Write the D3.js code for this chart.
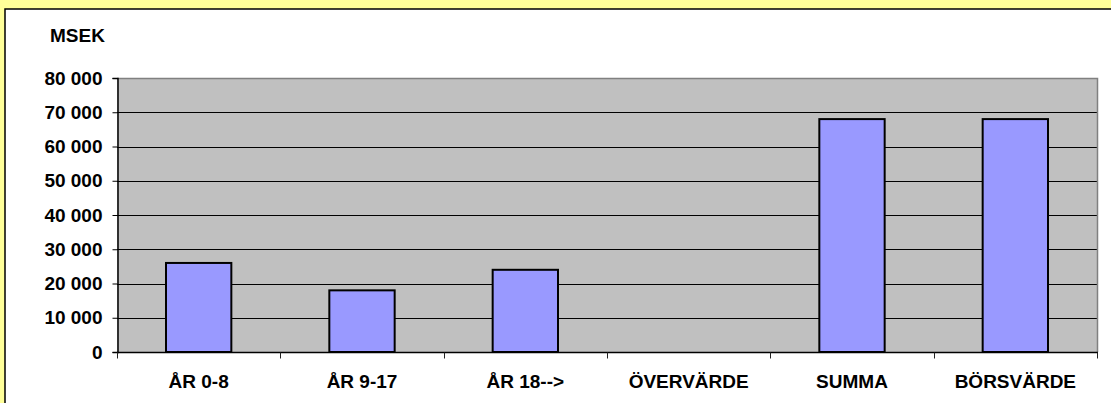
<!DOCTYPE html>
<html><head><meta charset="utf-8">
<script src="https://cdn.jsdelivr.net/npm/d3@7"></script>
<style>html,body{margin:0;padding:0;background:#FFFF99;overflow:hidden}</style>
</head><body>
<svg id="c" width="1111" height="403"></svg>
<script>
const categories = ["ÅR 0-8", "ÅR 9-17", "ÅR 18-->", "ÖVERVÄRDE", "SUMMA", "BÖRSVÄRDE"];
const values = [26000, 18000, 24000, 0, 68000, 68000];
const yTicks = [0, 10000, 20000, 30000, 40000, 50000, 60000, 70000, 80000];
const yTitle = "MSEK";

const svg = d3.select("#c");
const W = 1111, H = 403;
const font = "'Liberation Sans', Arial, sans-serif";
const fs = 19;

svg.append("rect").attr("width", W).attr("height", H).attr("fill", "#FFFF99");
svg.append("rect").attr("x", 5).attr("y", 9).attr("width", 1200).attr("height", 500)
  .attr("fill", "#fff").attr("stroke", "#000").attr("stroke-width", 1.5);

const m = {l: 117, t: 78, r: 1097, b: 352};
const x = d3.scaleBand().domain(categories).range([m.l, m.r]).paddingInner(0.6).paddingOuter(0.3);
const xb = d3.scaleBand().domain(categories).range([m.l, m.r]);
const y = d3.scaleLinear().domain([0, 80000]).range([m.b, m.t]);

svg.append("rect").attr("x", m.l).attr("y", m.t).attr("width", m.r - m.l).attr("height", m.b - m.t)
  .attr("fill", "#C0C0C0");

// gridlines
svg.append("g").selectAll("line").data(yTicks.filter(d => d > 0 && d < 80000)).join("line")
  .attr("x1", m.l).attr("x2", m.r).attr("y1", d => Math.round(y(d)) + 0.5).attr("y2", d => Math.round(y(d)) + 0.5)
  .attr("stroke", "#000").attr("stroke-width", 1);

// plot border top/right
svg.append("path").attr("d", `M${m.l},${m.t + 0.5}H${m.r + 0.5}V${m.b}`)
  .attr("fill", "none").attr("stroke", "#808080").attr("stroke-width", 1.5);

// bars
svg.append("g").selectAll("rect").data(values).join("rect")
  .attr("x", (d, i) => x(categories[i]))
  .attr("width", x.bandwidth())
  .attr("y", d => y(d))
  .attr("height", d => m.b - y(d))
  .attr("fill", "#9999FF").attr("stroke", "#000").attr("stroke-width", 2)
  .style("display", d => d > 0 ? null : "none");

// y axis
const yAxis = d3.axisLeft(y).tickValues(yTicks).tickSize(5).tickPadding(10)
  .tickFormat(d => d3.format(",")(d).replace(/,/g, " "));
const gy = svg.append("g").attr("transform", `translate(${m.l + 0.5},0)`).call(yAxis);
gy.select(".domain").attr("stroke", "#000").attr("stroke-width", 1.5);
gy.selectAll(".tick line").attr("stroke", "#000");
gy.selectAll(".tick text").attr("font-family", font).attr("font-size", fs).attr("font-weight", "bold").attr("fill", "#000");

// x axis
const gx = svg.append("g").attr("transform", `translate(0,${m.b + 0.5})`);
gx.append("line").attr("x1", m.l).attr("x2", m.r + 1).attr("stroke", "#000").attr("stroke-width", 1.5);
gx.selectAll("line.tk").data(d3.range(categories.length + 1)).join("line").attr("class", "tk")
  .attr("x1", i => Math.round(m.l + i * xb.step()) + 0.5).attr("x2", i => Math.round(m.l + i * xb.step()) + 0.5)
  .attr("y1", 0).attr("y2", 6).attr("stroke", "#222").attr("stroke-width", 1);
gx.selectAll("text").data(categories).join("text")
  .attr("x", d => xb(d) + xb.bandwidth() / 2).attr("y", 35)
  .attr("text-anchor", "middle").attr("font-family", font).attr("font-size", fs).attr("font-weight", "bold")
  .text(d => d);

svg.append("text").attr("x", 50).attr("y", 42).attr("font-family", font).attr("font-size", fs)
  .attr("font-weight", "bold").text(yTitle);
</script>
</body></html>
